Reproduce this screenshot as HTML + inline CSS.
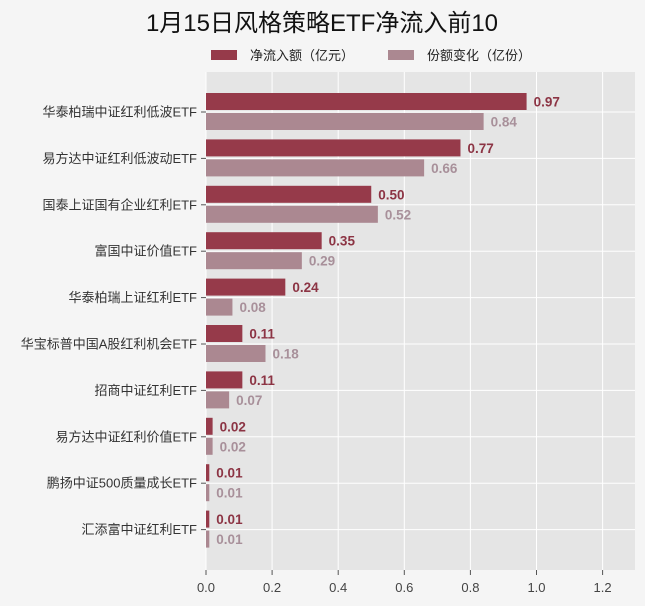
<!DOCTYPE html>
<html><head><meta charset="utf-8"><style>
body{margin:0;background:#f5f5f5;}
svg{display:block;font-family:"Liberation Sans","Noto Sans CJK SC",sans-serif;}
</style></head><body>
<svg id="c" width="645" height="606">
<rect width="645" height="606" fill="#f5f5f5"/>
<text x="322" y="31" text-anchor="middle" font-size="24" fill="#111">1月15日风格策略ETF净流入前10</text>
<g>
<rect x="211" y="50" width="26" height="10" fill="#963a4a"/>
<text x="250" y="60" font-size="13" fill="#222">净流入额（亿元）</text>
<rect x="388" y="50" width="26" height="10" fill="#ab8891"/>
<text x="427" y="60" font-size="13" fill="#222">份额变化（亿份）</text>
</g>
<rect x="206" y="72" width="429" height="498" fill="#e5e5e5"/>
<g id="g"></g>
</svg>
<script>
const categories=["华泰柏瑞中证红利低波ETF","易方达中证红利低波动ETF","国泰上证国有企业红利ETF","富国中证价值ETF","华泰柏瑞上证红利ETF","华宝标普中国A股红利机会ETF","招商中证红利ETF","易方达中证红利价值ETF","鹏扬中证500质量成长ETF","汇添富中证红利ETF"];
const inflow=[0.97,0.77,0.50,0.35,0.24,0.11,0.11,0.02,0.01,0.01];
const shareChange=[0.84,0.66,0.52,0.29,0.08,0.18,0.07,0.02,0.01,0.01];
const xTicks=[0,0.2,0.4,0.6,0.8,1.0,1.2];
const NS="http://www.w3.org/2000/svg",g=document.getElementById("g");
const x0=206,sc=330.5,y0=112,step=46.4;
const X=v=>x0+v*sc, Y=i=>y0+i*step;
function mk(t,a,txt){const e=document.createElementNS(NS,t);for(const k in a)e.setAttribute(k,a[k]);if(txt!==undefined)e.textContent=txt;g.appendChild(e);return e;}
xTicks.forEach(t=>{
 let e=mk("line",{x1:X(t),x2:X(t),y1:72,y2:570,stroke:"#fff","stroke-width":1});
 
 
 e=mk("line",{x1:X(t),x2:X(t),y1:570,y2:575,stroke:"#555"});
 
 
 e=mk("text",{x:X(t),y:592,"text-anchor":"middle","font-size":13,fill:"#444"},t.toFixed(1));
 
 
});
categories.forEach((c,i)=>{
 const y=Y(i);
 let e=mk("line",{x1:206,x2:635,y1:y,y2:y,stroke:"#fff","stroke-width":1});
 
 
 e=mk("line",{x1:201,x2:206,y1:y,y2:y,stroke:"#555"});
 
 
 e=mk("text",{x:197,y:y+4.5,"text-anchor":"end","font-size":13,fill:"#333"},c);
 
 
 e=mk("rect",{x:X(0),y:y-19,width:Math.max(X(inflow[i])-X(0),2),height:17,fill:"#963a4a"});
 
 
 e=mk("rect",{x:X(0),y:y+1,width:Math.max(X(shareChange[i])-X(0),2),height:17,fill:"#ab8891"});
 
 
 e=mk("text",{x:X(inflow[i])+7,y:y-5.5,"font-size":13.5,"font-weight":"bold",fill:"#8c3444"},inflow[i].toFixed(2));
 
 
 e=mk("text",{x:X(shareChange[i])+7,y:y+14.5,"font-size":13.5,"font-weight":"bold",fill:"#a8909a"},shareChange[i].toFixed(2));
 
 
});
</script>
</body></html>
